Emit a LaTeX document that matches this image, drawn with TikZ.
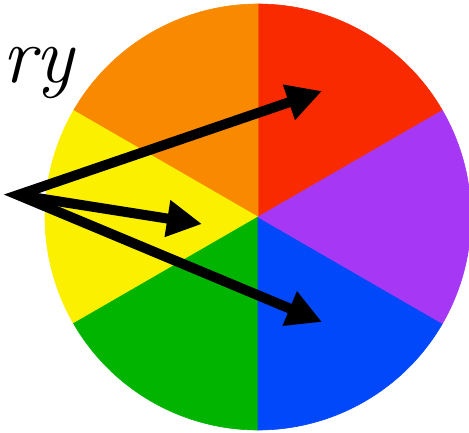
\documentclass[tikz,border=0pt]{standalone}
\usepackage{xcolor}
\usepackage{tikz}
\usetikzlibrary{arrows.meta, positioning}
\definecolor{wheelred}{RGB}{249,42,0}
\definecolor{wheelorange}{RGB}{249,138,0}
\definecolor{wheelyellow}{RGB}{250,240,0}
\definecolor{wheelgreen}{RGB}{0,180,0}
\definecolor{wheelblue}{RGB}{0,72,250}
\definecolor{wheelpurple}{RGB}{166,56,245}
\tikzstyle{sector} = [line width=0.6pt, line join=round]
\tikzstyle{arrow} = [line width=10pt, line join=miter, -{Triangle[length=35pt, width=35pt]}, color=black]
\tikzstyle{hand} = [font=\fontsize{80}{80}\selectfont\itshape, inner sep=0pt, anchor=base west]

\begin{document}
\begin{tikzpicture}[x=1pt, y=1pt]
    \useasboundingbox (0,0) rectangle (469,-432);
    \clip (0,0) rectangle (469,-432);
    \coordinate (centre) at (258,-217);
    % colour wheel
    \foreach \a/\col in {30/wheelred, 90/wheelorange, 150/wheelyellow, 210/wheelgreen, 270/wheelblue, 330/wheelpurple}
        \filldraw[sector, fill=\col, draw=\col] (centre) -- ++(\a:213) arc[start angle=\a, end angle=\a+60, radius=213] -- cycle;
    \node (label) [hand] at (2,-82) {ry};
    % arrows
    \coordinate (start) at (18,-195);
    \coordinate (redtip) at (322,-91);
    \coordinate (yellowtip) at (202,-224);
    \coordinate (bluetip) at (322,-322);
    \draw [arrow] (start) -- (yellowtip);
    \draw [arrow, {Triangle[length=35pt, width=35pt]}-{Triangle[length=35pt, width=35pt]}] (redtip) -- (start) -- (bluetip);
\end{tikzpicture}
\end{document}
